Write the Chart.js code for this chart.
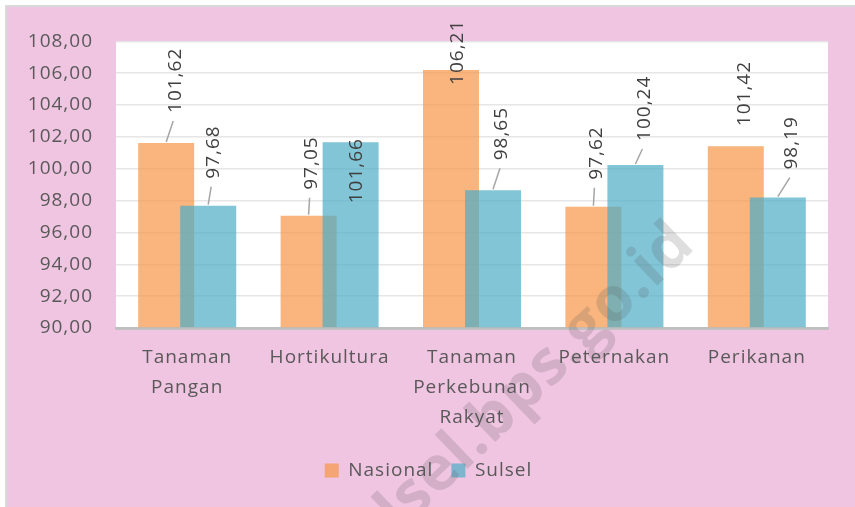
<!DOCTYPE html>
<html>
<head>
<meta charset="utf-8">
<script src="https://cdn.jsdelivr.net/npm/chart.js@4.4.1/dist/chart.umd.min.js"></script>
<style>
  body { margin: 0; background: #fff; }
  #wrap {
    position: absolute; left: 5px; top: 5px;
    border-top: 2px solid #d9d9d9; border-left: 2px solid #d9d9d9;
    background: #f0c5e1; width: 848px; height: 500px;
  }
  canvas { display: block; }
</style>
</head>
<body>
<div id="wrap"><canvas id="chart" width="848" height="500"></canvas></div>
<script>
/* ---------------- DATA ---------------- */
const categories = [["Tanaman", "Pangan"], "Hortikultura", ["Tanaman", "Perkebunan", "Rakyat"], "Peternakan", "Perikanan"];
const nasional = [101.62, 97.05, 106.21, 97.62, 101.42];
const sulsel = [97.68, 101.66, 98.65, 100.24, 98.19];
const yMin = 90;
const yMax = 108;
const yStep = 2;

/* ---------------- LABEL PLACEMENT (px, relative to bar top) ---------------- */
const nasGap = [30, 26, -15, 27, 20];
const sulGap = [27, -61, 30, 24, 28];
const nasDx = [9, 3, 7, 3, 9];
const sulDx = [5, 6, 9, 9, 14];

const FONT = '"Open Sans", "Liberation Sans", sans-serif';
const fmt = v => v.toFixed(2).replace(".", ",");

const spacing = {
  id: "spacing",
  beforeUpdate(chart) { chart.ctx.letterSpacing = "1px"; },
  beforeDraw(chart) {
    const { ctx, chartArea: a } = chart;
    ctx.letterSpacing = "1px";
    ctx.save();
    ctx.fillStyle = "#ffffff";
    ctx.fillRect(a.left, a.top, a.right - a.left, a.bottom - a.top);
    ctx.restore();
  }
};

/* Sulsel bars sit on top of Nasional bars where they overlap */
const sulselOnTop = {
  id: "sulselOnTop",
  beforeDatasetDraw(chart, args) {
    if (args.index === 1) return false;
  },
  afterDatasetsDraw(chart) {
    const { ctx, chartArea: a } = chart;
    ctx.save();
    ctx.beginPath();
    ctx.rect(a.left, a.top, a.right - a.left, a.bottom - a.top);
    ctx.clip();
    chart.getDatasetMeta(1).controller.draw();
    ctx.restore();

    // category axis line over the bar bases
    ctx.save();
    ctx.strokeStyle = "#bfbfbf";
    ctx.lineWidth = 2.5;
    ctx.beginPath();
    ctx.moveTo(a.left, a.bottom + 0.5);
    ctx.lineTo(a.right, a.bottom + 0.5);
    ctx.stroke();
    ctx.restore();
  }
};

const valueLabels = {
  id: "valueLabels",
  afterDatasetsDraw(chart) {
    const ctx = chart.ctx;
    const gaps = [nasGap, sulGap];
    const dxs = [nasDx, sulDx];
    ctx.save();
    ctx.font = `19px ${FONT}`;
    ctx.fillStyle = "#404040";
    ctx.strokeStyle = "#a6a6a6";
    ctx.lineWidth = 1.5;
    chart.data.datasets.forEach((ds, di) => {
      chart.getDatasetMeta(di).data.forEach((bar, i) => {
        const gap = gaps[di][i];
        const cx = bar.x + dxs[di][i];
        const bottom = bar.y - gap;
        if (gap > 22) {
          ctx.beginPath();
          ctx.moveTo(bar.x, bar.y - 1);
          ctx.lineTo(cx - 2, bottom + 8);
          ctx.stroke();
        }
        ctx.save();
        ctx.translate(cx, bottom);
        ctx.rotate(-Math.PI / 2);
        ctx.textAlign = "left";
        ctx.textBaseline = "middle";
        ctx.fillText(fmt(ds.data[i]), 0, 0);
        ctx.restore();
      });
    });
    ctx.restore();
  }
};

const watermark = {
  id: "watermark",
  afterDraw(chart) {
    const ctx = chart.ctx;
    ctx.save();
    ctx.translate(690, 240);
    ctx.rotate(-44 * Math.PI / 180);
    ctx.font = `bold 62px ${FONT}`;
    ctx.fillStyle = "rgba(90,90,90,0.2)";
    ctx.textAlign = "right";
    ctx.textBaseline = "alphabetic";
    ctx.fillText("sulsel.bps.go.id", 0, 0);
    ctx.restore();
  }
};

/* ---------------- CHART ---------------- */
new Chart(document.getElementById("chart"), {
  type: "bar",
  data: {
    labels: categories,
    datasets: [
      { label: "Nasional", data: nasional, backgroundColor: "rgba(247,150,70,0.7)", borderWidth: 0 },
      { label: "Sulsel", data: sulsel, backgroundColor: "rgba(75,172,198,0.7)", borderWidth: 0 }
    ]
  },
  options: {
    responsive: false,
    animation: false,
    devicePixelRatio: 1,
    categoryPercentage: 0.59,
    barPercentage: 1.333,
    layout: { padding: { top: 28, right: 5, bottom: 17, left: 0 } },
    plugins: {
      tooltip: { enabled: false },
      legend: {
        position: "bottom",
        labels: {
          font: { family: FONT, size: 19 },
          color: "#595959",
          boxWidth: 14,
          boxHeight: 14,
          padding: 18
        }
      }
    },
    scales: {
      x: {
        grid: { display: false, drawTicks: false },
        border: { color: "#bfbfbf", width: 2.5 },
        ticks: {
          font: { family: FONT, size: 19, lineHeight: 1.58 },
          color: "#595959",
          padding: 15,
          maxRotation: 0,
          autoSkip: false
        },
        afterFit(s) { s.height = 115; }
      },
      y: {
        min: yMin,
        max: yMax,
        grid: { color: "#e6e6e6", lineWidth: 1.5, drawTicks: false },
        border: { display: false },
        ticks: {
          stepSize: yStep,
          font: { family: FONT, size: 19 },
          color: "#595959",
          padding: 23,
          callback: v => fmt(v)
        },
        afterFit(s) { s.width = 109; }
      },
      yr: {
        type: "linear",
        position: "right",
        grid: { display: false },
        border: { display: false },
        ticks: { display: false },
        afterFit(s) { s.width = 22; }
      }
    }
  },
  plugins: [spacing, sulselOnTop, valueLabels, watermark]
});
</script>
</body>
</html>
